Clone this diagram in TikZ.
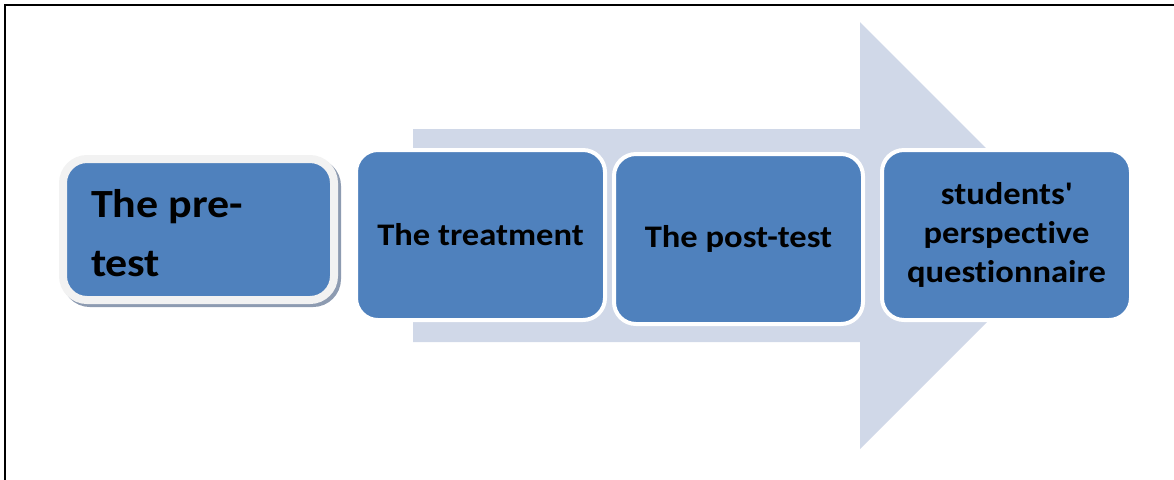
\documentclass[tikz,border=0pt]{standalone}
\usepackage{fontspec}
\setmainfont{Carlito}[Ligatures={TeX,NoCommon}, FakeStretch=1.1]
\usetikzlibrary{positioning}

\definecolor{stageblue}{RGB}{79,129,189}
\definecolor{arrowgray}{RGB}{208,216,232}
\definecolor{shadowgray}{RGB}{141,155,177}
\definecolor{rimgray}{RGB}{242,242,242}

\begin{document}
\begin{tikzpicture}[
  x=0.5pt, y=-0.5pt,
  every node/.style={font=\bfseries\fontsize{15.7pt}{19.5pt}\selectfont},
  stagebox/.style={draw=white, line width=2pt, fill=stageblue, rounded corners=11pt, minimum width=124.5pt, minimum height=85pt, align=center, outer sep=0pt, inner sep=3pt},
  firstbox/.style={draw=rimgray, line width=4pt, fill=stageblue, rounded corners=12pt, minimum width=135.5pt, minimum height=70.5pt, align=flush left, text width=107.5pt, inner xsep=14pt, outer sep=0pt,
    font=\bfseries\fontsize{20pt}{29.5pt}\selectfont,
    preaction={draw=shadowgray, fill=shadowgray, line width=4pt, transform canvas={shift={(1.5pt,-1.5pt)}}}}
]
\useasboundingbox (0,0) rectangle (1174,479);
\draw[line width=1pt] (5,490) -- (5,5) -- (1190,5);

% big arrow behind the stages
\fill[arrowgray] (413,129) -- (860,129) -- (860,22) -- (1073.5,235.5) -- (860,449) -- (860,342) -- (413,342) -- cycle;

\node[stagebox] (treat) at (480.5,235) {The treatment};
\node[stagebox, right=4.5pt of treat, yshift=-2pt] (posttest) {The post-test};
\node[stagebox, right=9.5pt of posttest, yshift=2pt] (quest) {students\textquotesingle\\perspective\\questionnaire};
\node[firstbox, left=11pt of treat, yshift=2.75pt] (pretest) {\rule{0pt}{18pt}The pre-\\test};
\end{tikzpicture}
\end{document}
